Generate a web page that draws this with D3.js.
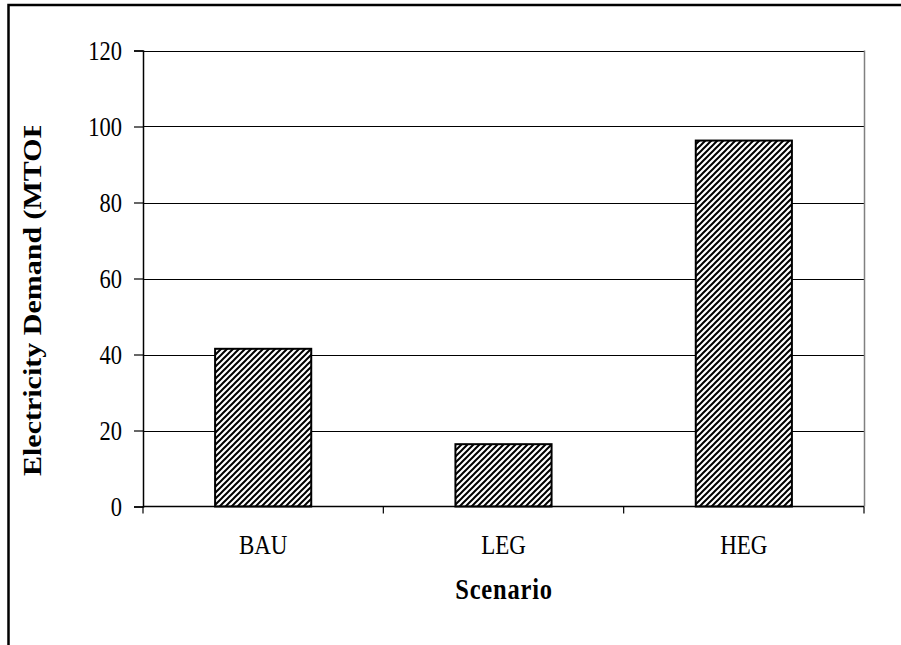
<!DOCTYPE html>
<html>
<head>
<meta charset="utf-8">
<script src="https://cdn.jsdelivr.net/npm/d3@7"></script>
<style>
  html, body { margin: 0; padding: 0; background: #fff; }
  svg { display: block; }
  text { font-family: "Liberation Serif", "Times New Roman", serif; fill: #000; }
</style>
</head>
<body>
<svg id="chart" width="901" height="645"></svg>
<script>
// Electricity demand by scenario (MTOE)
const categories = ["BAU", "LEG", "HEG"];
const demand = [41.5, 16.4, 96.3];
const yTicks = [0, 20, 40, 60, 80, 100, 120];
const xTitle = "Scenario";
const yTitle = "Electricity Demand (MTOE)";

const svg = d3.select("#chart");
const plot = { left: 143, right: 864, top: 50.5, bottom: 506.5 };
const stretch = 1.17; // vertical stretch of the lettering

const x = d3.scaleBand().domain(categories).range([plot.left, plot.right]).paddingInner(0).paddingOuter(0);
const y = d3.scaleLinear().domain([0, 120]).range([plot.bottom, plot.top]);

// hatch fill for the bars
const defs = svg.append("defs");
const pat = defs.append("pattern")
  .attr("id", "hatch").attr("patternUnits", "userSpaceOnUse")
  .attr("width", 6).attr("height", 6);
pat.append("rect").attr("width", 6).attr("height", 6).attr("fill", "#fff");
pat.append("path")
  .attr("d", "M-1,1 L1,-1 M0,6 L6,0 M5,7 L7,5")
  .attr("stroke", "#000").attr("stroke-width", 2);

defs.append("clipPath").attr("id", "ytitle-clip")
  .append("rect").attr("x", 0).attr("y", 126).attr("width", 140).attr("height", 500);

// outer frame
svg.append("rect")
  .attr("x", 8.5).attr("y", 5).attr("width", 1000).attr("height", 1000)
  .attr("fill", "none").attr("stroke", "#000").attr("stroke-width", 2.5);

// gridlines
svg.append("g").selectAll("line")
  .data(yTicks.filter(d => d > 0))
  .join("line")
  .attr("x1", plot.left).attr("x2", plot.right)
  .attr("y1", d => Math.round(y(d)) + 0.5).attr("y2", d => Math.round(y(d)) + 0.5)
  .attr("stroke", "#000").attr("stroke-width", 1.2);

// right border of plot area
svg.append("line")
  .attr("x1", plot.right + 0.5).attr("x2", plot.right + 0.5)
  .attr("y1", plot.top).attr("y2", plot.bottom)
  .attr("stroke", "#808080").attr("stroke-width", 1.5);

// bars
const barW = x.bandwidth() * 0.4;
svg.append("g").selectAll("rect")
  .data(categories.map((c, i) => ({ c, v: demand[i] })))
  .join("rect")
  .attr("x", d => x(d.c) + (x.bandwidth() - barW) / 2)
  .attr("y", d => y(d.v))
  .attr("width", barW)
  .attr("height", d => y(0) - y(d.v))
  .attr("fill", "url(#hatch)")
  .attr("stroke", "#000").attr("stroke-width", 2);

// y axis
const yAxis = svg.append("g")
  .attr("transform", `translate(${plot.left},0)`)
  .call(d3.axisLeft(y).tickValues(yTicks).tickSize(9).tickFormat(""));
yAxis.select(".domain").attr("stroke", "#000").attr("stroke-width", 1.5);
yAxis.selectAll(".tick line").attr("stroke", "#000").attr("stroke-width", 1.2);

// x axis
const xEdges = [plot.left, ...categories.slice(1).map(c => x(c)), plot.right];
const xAxisG = svg.append("g").attr("transform", `translate(0,${plot.bottom})`);
xAxisG.append("line").attr("x1", plot.left).attr("x2", plot.right)
  .attr("stroke", "#000").attr("stroke-width", 1.5);
xAxisG.selectAll("line.tk").data(xEdges).join("line").attr("class", "tk")
  .attr("x1", d => d).attr("x2", d => d).attr("y1", 0).attr("y2", 7)
  .attr("stroke", "#000").attr("stroke-width", 1.2);

// y tick labels
svg.append("g").selectAll("text")
  .data(yTicks).join("text")
  .attr("transform", d => `translate(122,${y(d) + 9}) scale(1,${stretch})`)
  .attr("text-anchor", "end")
  .attr("font-size", 22.5)
  .text(d => d);

// x tick labels
svg.append("g").selectAll("text")
  .data(categories).join("text")
  .attr("transform", d => `translate(${x(d) + x.bandwidth() / 2},554) scale(1,${stretch})`)
  .attr("text-anchor", "middle")
  .attr("font-size", 23)
  .text(d => d);

// axis titles
svg.append("text")
  .attr("transform", `translate(504,599) scale(1,${stretch})`)
  .attr("text-anchor", "middle")
  .attr("font-size", 24.5).attr("font-weight", "bold")
  .attr("letter-spacing", 0.8)
  .text(xTitle);

svg.append("g").attr("clip-path", "url(#ytitle-clip)")
  .append("text")
  .attr("transform", `translate(41,476) scale(1,1.2) rotate(-90)`)
  .attr("text-anchor", "start")
  .attr("font-size", 25).attr("font-weight", "bold")
  .text(yTitle);
</script>
</body>
</html>
